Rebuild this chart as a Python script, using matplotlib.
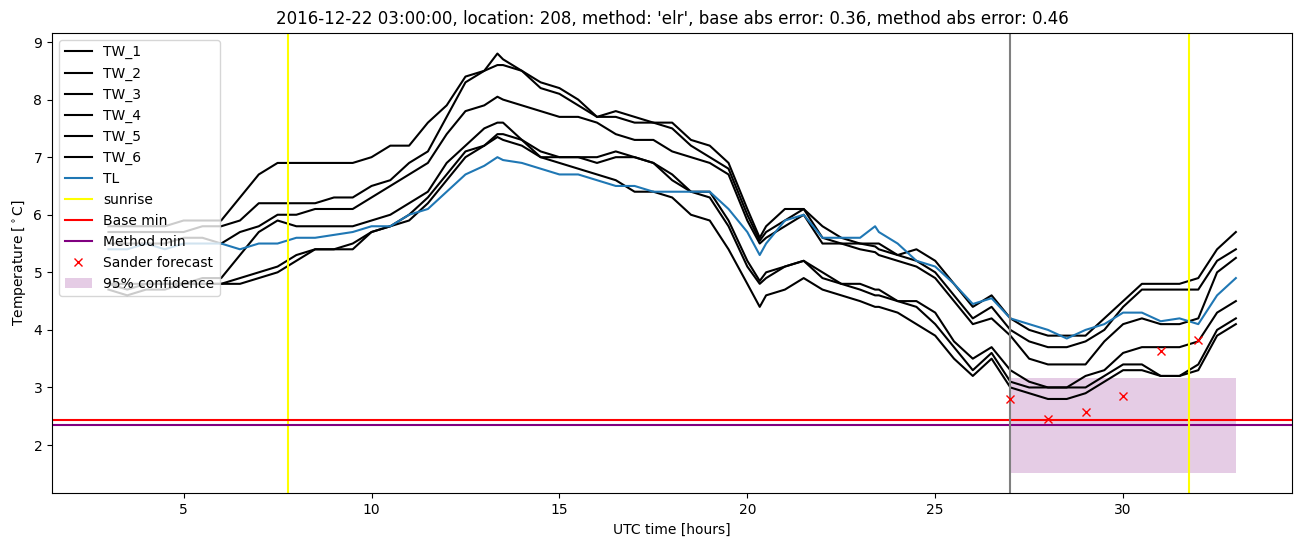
import numpy as np
import matplotlib.pyplot as plt

# UTC hours (mostly half-hourly readings, a few extra at sharp turns)
hours = [3.0, 3.5, 4.0, 4.5, 5.0, 5.5, 6.0, 6.5, 7.0, 7.5,
         8.0, 8.5, 9.0, 9.5, 10.0, 10.5, 11.0, 11.5, 12.0, 12.5,
         13.0, 13.35, 13.5, 14.0, 14.5, 15.0, 15.5, 16.0, 16.5, 17.0, 17.5,
         18.0, 18.5, 19.0, 19.5, 20.0, 20.33, 20.5, 21.0, 21.5, 22.0, 22.5,
         23.0, 23.4, 23.5, 24.0, 24.5, 25.0, 25.5, 26.0, 26.5, 27.0, 27.5,
         28.0, 28.5, 29.0, 29.5, 30.0, 30.5, 31.0, 31.5, 32.0, 32.5,
         33.0]

tw_1 = [5.8, 5.8, 5.8, 5.8, 5.9, 5.9, 5.9, 6.3, 6.7, 6.9,
        6.9, 6.9, 6.9, 6.9, 7.0, 7.2, 7.2, 7.6, 7.9, 8.4,
        8.5, 8.8, 8.7, 8.5, 8.3, 8.2, 8.0, 7.7, 7.8, 7.7, 7.6,
        7.6, 7.3, 7.2, 6.9, 6.1, 5.6, 5.8, 6.1, 6.1, 5.8, 5.6,
        5.5, 5.5, 5.5, 5.3, 5.4, 5.2, 4.8, 4.4, 4.6, 4.2, 4.0,
        3.9, 3.9, 3.9, 4.2, 4.5, 4.8, 4.8, 4.8, 4.9, 5.4,
        5.7]
tw_2 = [5.7, 5.7, 5.7, 5.7, 5.7, 5.8, 5.8, 5.9, 6.2, 6.2,
        6.2, 6.2, 6.3, 6.3, 6.5, 6.6, 6.9, 7.1, 7.7, 8.3,
        8.5, 8.6, 8.6, 8.5, 8.2, 8.1, 7.9, 7.7, 7.7, 7.6, 7.6,
        7.5, 7.2, 7.0, 6.8, 6.0, 5.55, 5.7, 5.9, 6.1, 5.6, 5.5,
        5.5, 5.45, 5.4, 5.3, 5.2, 5.0, 4.6, 4.2, 4.4, 4.0, 3.8,
        3.7, 3.7, 3.8, 4.0, 4.4, 4.7, 4.7, 4.7, 4.7, 5.2,
        5.4]
tw_3 = [5.5, 5.5, 5.5, 5.5, 5.6, 5.6, 5.5, 5.7, 5.8, 6.0,
        6.0, 6.1, 6.1, 6.1, 6.3, 6.5, 6.7, 6.9, 7.4, 7.8,
        7.9, 8.05, 8.0, 7.9, 7.8, 7.7, 7.7, 7.6, 7.4, 7.3, 7.3,
        7.1, 7.0, 6.9, 6.7, 5.9, 5.5, 5.6, 5.8, 6.0, 5.5, 5.5,
        5.4, 5.35, 5.3, 5.2, 5.1, 4.9, 4.5, 4.1, 4.2, 3.9, 3.5,
        3.4, 3.4, 3.4, 3.8, 4.1, 4.2, 4.1, 4.1, 4.2, 5.0,
        5.25]
tw_4 = [4.8, 4.8, 4.8, 4.8, 4.8, 4.9, 4.9, 5.3, 5.7, 5.9,
        5.8, 5.8, 5.8, 5.8, 5.9, 6.0, 6.2, 6.4, 6.9, 7.2,
        7.5, 7.6, 7.6, 7.3, 7.1, 7.0, 7.0, 7.0, 7.1, 7.0, 6.9,
        6.7, 6.4, 6.4, 5.9, 5.2, 4.85, 5.0, 5.1, 5.2, 5.0, 4.8,
        4.8, 4.7, 4.7, 4.5, 4.5, 4.3, 3.8, 3.5, 3.7, 3.3, 3.1,
        3.0, 3.0, 3.2, 3.3, 3.6, 3.7, 3.7, 3.7, 3.8, 4.3,
        4.5]
tw_5 = [4.8, 4.7, 4.8, 4.8, 4.8, 4.8, 4.8, 4.9, 5.0, 5.1,
        5.3, 5.4, 5.4, 5.5, 5.7, 5.8, 6.0, 6.3, 6.7, 7.1,
        7.2, 7.4, 7.4, 7.3, 7.0, 7.0, 7.0, 6.9, 7.0, 7.0, 6.9,
        6.6, 6.4, 6.3, 5.8, 5.1, 4.8, 4.9, 5.1, 5.2, 4.9, 4.8,
        4.7, 4.6, 4.6, 4.5, 4.4, 4.1, 3.7, 3.3, 3.6, 3.1, 3.0,
        3.0, 3.0, 3.0, 3.2, 3.4, 3.4, 3.2, 3.2, 3.4, 4.0,
        4.2]
tw_6 = [4.7, 4.6, 4.7, 4.7, 4.8, 4.8, 4.8, 4.8, 4.9, 5.0,
        5.2, 5.4, 5.4, 5.4, 5.7, 5.8, 5.9, 6.2, 6.6, 7.0,
        7.2, 7.35, 7.3, 7.2, 7.0, 6.9, 6.8, 6.7, 6.6, 6.4, 6.4,
        6.3, 6.0, 5.9, 5.4, 4.8, 4.4, 4.6, 4.7, 4.9, 4.7, 4.6,
        4.5, 4.4, 4.4, 4.3, 4.1, 3.9, 3.5, 3.2, 3.5, 3.0, 2.9,
        2.8, 2.8, 2.9, 3.1, 3.3, 3.3, 3.2, 3.2, 3.3, 3.9,
        4.1]
tl = [5.4, 5.4, 5.5, 5.4, 5.5, 5.5, 5.5, 5.4, 5.5, 5.5,
      5.6, 5.6, 5.65, 5.7, 5.8, 5.8, 6.0, 6.1, 6.4, 6.7,
      6.85, 7.0, 6.95, 6.9, 6.8, 6.7, 6.7, 6.6, 6.5, 6.5, 6.4,
      6.4, 6.4, 6.4, 6.1, 5.7, 5.3, 5.5, 5.9, 6.0, 5.6, 5.6,
      5.6, 5.8, 5.7, 5.5, 5.2, 5.1, 4.8, 4.45, 4.55, 4.2, 4.1,
      4.0, 3.85, 4.0, 4.1, 4.3, 4.3, 4.15, 4.2, 4.1, 4.6,
      4.9]

sunrise = [7.78, 31.75]
forecast_time = 27.0
base_min = 2.44
method_min = 2.34
sander_hours = [27, 28, 29, 30, 31, 32]
sander_temp = [2.80, 2.45, 2.57, 2.85, 3.63, 3.83]
conf_hours = [27, 33]
conf_low = 1.52
conf_high = 3.17

fig, ax = plt.subplots(figsize=(13.02, 5.47), dpi=100)
fig.subplots_adjust(left=0.040, right=0.9925, top=0.940, bottom=0.098)

for i, tw in enumerate([tw_1, tw_2, tw_3, tw_4, tw_5, tw_6]):
    ax.plot(hours, tw, color='black', label=f'TW_{i+1}')
ax.plot(hours, tl, color='tab:blue', label='TL')

ax.axvline(sunrise[0], color='yellow', label='sunrise')
ax.axhline(base_min, color='red', label='Base min')
ax.axhline(method_min, color='purple', label='Method min')
ax.axvline(sunrise[1], color='yellow')
ax.axvline(forecast_time, color='grey')
ax.plot(sander_hours, sander_temp, 'x', color='red', linestyle='none', label='Sander forecast')
ax.fill_between(conf_hours, conf_low, conf_high, color='purple', alpha=0.2, linewidth=0,
                label='95% confidence')

ax.set_xlim(1.5, 34.5)
ax.set_ylim(1.16, 9.16)
ax.set_xlabel('UTC time [hours]')
ax.set_ylabel('Temperature [$^\\circ$C]')
ax.set_title("2016-12-22 03:00:00, location: 208, method: 'elr', base abs error: 0.36, method abs error: 0.46")
ax.legend(loc='upper left')

fig.savefig('out.png', dpi=100)
